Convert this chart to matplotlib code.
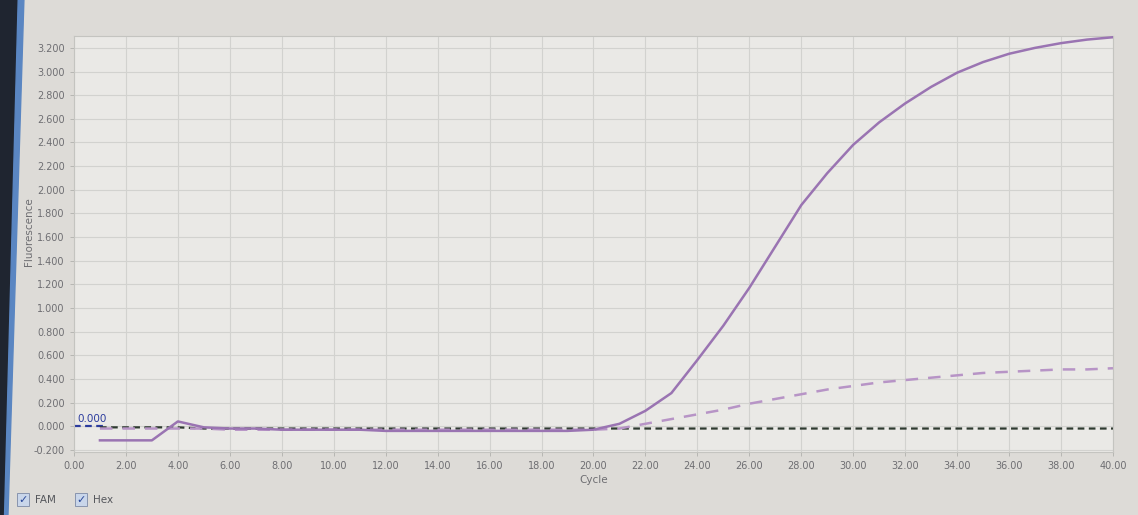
# qPCR amplification plot (FAM / Hex) as shown on the instrument screen
import numpy as np
import matplotlib.pyplot as plt
from matplotlib.patches import Polygon, Rectangle

# Cycle numbers and the fluorescence values
cycles = list(range(1, 41))

fam = [-0.12, -0.12, -0.12, 0.04, -0.01, -0.02, -0.02, -0.03, -0.03, -0.03,
       -0.03, -0.04, -0.04, -0.04, -0.04, -0.04, -0.04, -0.04, -0.04, -0.03,
       0.02, 0.13, 0.28, 0.56, 0.85, 1.17, 1.52, 1.87, 2.14, 2.38,
       2.57, 2.73, 2.87, 2.99, 3.08, 3.15, 3.20, 3.24, 3.27, 3.29]

hex_ = [-0.02, -0.02, -0.02, -0.02, -0.02, -0.03, -0.03, -0.03, -0.03, -0.03,
        -0.03, -0.03, -0.03, -0.03, -0.03, -0.03, -0.03, -0.03, -0.03, -0.03,
        -0.02, 0.02, 0.06, 0.10, 0.14, 0.19, 0.23, 0.27, 0.31, 0.34,
        0.37, 0.39, 0.41, 0.43, 0.45, 0.46, 0.47, 0.48, 0.48, 0.49]

negative = [-0.01, -0.01, -0.01, -0.01, -0.02, -0.02, -0.02, -0.02, -0.02, -0.02,
            -0.02, -0.02, -0.02, -0.02, -0.02, -0.02, -0.02, -0.02, -0.02, -0.02,
            -0.02, -0.02, -0.02, -0.02, -0.02, -0.02, -0.02, -0.02, -0.02, -0.02,
            -0.02, -0.02, -0.02, -0.02, -0.02, -0.02, -0.02, -0.02, -0.02, -0.02]

threshold = 0.0

xticks = np.arange(0, 40.01, 2)
yticks = np.arange(-0.2, 3.21, 0.2)

# Figure and axes, sized like the screenshot
fig = plt.figure(figsize=(11.38, 5.15), dpi=100, facecolor="#dddbd7")
ax = fig.add_axes([0.065, 0.122, 0.913, 0.808], facecolor="#eae9e6")

# Curves
ax.plot(cycles, negative, color="#2e3a30", linestyle=(0, (3, 2)), linewidth=1.6, zorder=3)
ax.plot(cycles, hex_, color="#b794c6", linestyle=(0, (5, 4)), linewidth=1.8, zorder=4)
ax.plot(cycles, fam, color="#9a74b2", linestyle="solid", linewidth=1.8, zorder=5)

# Threshold line with its value
ax.axhline(threshold, xmin=0, xmax=0.03, color="#2c3c9e", linestyle=(0, (3, 2)), linewidth=1.6, zorder=2)
ax.text(0.15, threshold + 0.02, "%.3f" % threshold, color="#2c3c9e", fontsize=7.5, va="bottom")

# Axis limits, ticks and grid
ax.set_xlim(0, 40)
ax.set_ylim(-0.22, 3.3)
ax.set_xticks(xticks)
ax.set_xticklabels(["%.2f" % t for t in xticks])
ax.set_yticks(yticks)
ax.set_yticklabels(["%.3f" % t for t in yticks])
ax.tick_params(colors="#b0b0ad", labelcolor="#6e6e72", labelsize=7, length=3, width=0.6)
ax.grid(color="#d2d2cf", linewidth=0.8)
for side in ax.spines.values():
    side.set_color("#c4c4c0")
    side.set_linewidth(0.8)

ax.set_xlabel("Cycle", fontsize=7.5, color="#6e6e72", labelpad=3)
ax.set_ylabel("Fluorescence", fontsize=7.5, color="#6e6e72")
ax.yaxis.set_label_coords(-0.038, 0.53)

# Monitor bezel on the left edge of the photo
fig.patches.append(Polygon([[0, 1], [0.016, 1], [0.004, 0], [0, 0]],
                           closed=True, transform=fig.transFigure, color="#1f2530"))
fig.patches.append(Polygon([[0.016, 1], [0.021, 1], [0.007, 0], [0.004, 0]],
                           closed=True, transform=fig.transFigure, color="#5a86c2"))

# Channel check boxes
for x0, name in [(0.015, "FAM"), (0.066, "Hex")]:
    fig.patches.append(Rectangle((x0, 0.018), 0.0105, 0.024, transform=fig.transFigure,
                                 facecolor="#c9d6ea", edgecolor="#7d8aa6", linewidth=0.6))
    fig.text(x0 + 0.0053, 0.03, "\u2713", color="#2b4a9a", fontsize=8, ha="center", va="center")
    fig.text(x0 + 0.0155, 0.03, name, color="#55575c", fontsize=7.5, va="center")

plt.savefig("out.png", dpi=100, facecolor=fig.get_facecolor())
